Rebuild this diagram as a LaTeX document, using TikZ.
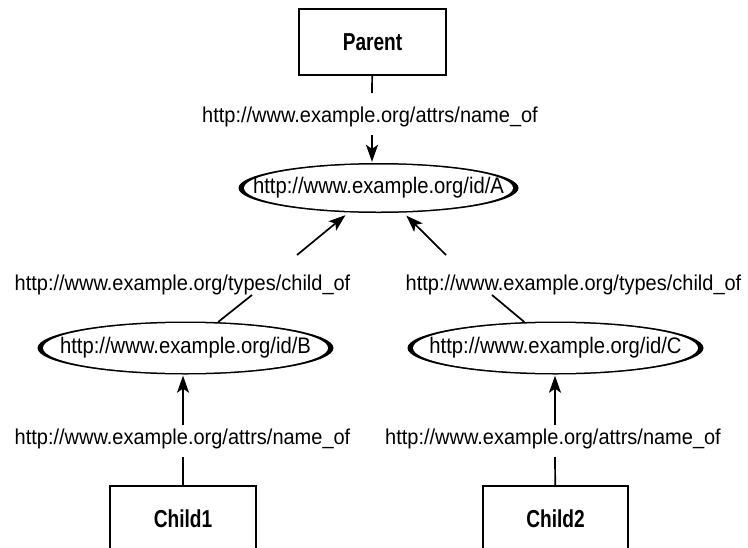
\documentclass[tikz,border=0pt]{standalone}
\usepackage{fontspec}
\usepackage{graphicx}
\setmainfont{Liberation Sans}
\usetikzlibrary{arrows.meta,shapes.geometric}

\tikzset{
  box/.style={draw=black, line width=1.6pt, rectangle, inner sep=0pt,
    minimum width=#1, minimum height=66pt,
    font=\bfseries\fontsize{24.5}{28}\selectfont},
  % ellipse with heavy left/right ends and thin top/bottom rim
  oval/.style 2 args={ellipse, fill=black, inner sep=0pt,
    minimum width=#1, minimum height=#2,
    font=\fontsize{22.5}{26}\selectfont,
    path picture={\fill[white] (path picture bounding box.center)
      ellipse [x radius={#1/2-5.5pt}, y radius={#2/2-1.5pt}];}},
  lbl/.style={inner sep=0pt, anchor=base, font=\fontsize{21.5}{25}\selectfont},
  edge/.style={draw=black, line width=1.7pt},
  arrow/.style={edge, -{Stealth[length=17pt, width=12pt, inset=4pt]}, shorten >=1pt}
}
\newcommand{\ovaltext}[1]{\makebox[0pt]{\scalebox{0.9}[1]{#1}}}
\newcommand{\boxtext}[1]{\scalebox{0.78}[1]{#1}}
\newcommand{\lbltext}[1]{\scalebox{0.93}[1]{#1}}

\begin{document}
\begin{tikzpicture}[x=1pt, y=-1pt]
  \useasboundingbox (0,0) rectangle (748,547);
  \clip (0,0) rectangle (748,547);

  % resource nodes
  \node[box=147pt] (Parent) at (372.5,42) {\boxtext{Parent}};
  \node[oval={280pt}{50pt}] (A) at (378.5,188) {\ovaltext{http://www.example.org/id/A}};
  \node[oval={296pt}{53pt}] (B) at (185.5,348) {\ovaltext{http://www.example.org/id/B}};
  \node[oval={296pt}{53pt}] (C) at (555.5,348) {\ovaltext{http://www.example.org/id/C}};
  \node[box=146pt] (Child1) at (183,519) {\boxtext{Child1}};
  \node[box=145pt] (Child2) at (555.5,519) {\boxtext{Child2}};

  % predicate labels
  \node[lbl] (lp) at (370,122) {\lbltext{http://www.example.org/attrs/name\_of}};
  \node[lbl] (lb) at (182.5,290.5) {\lbltext{http://www.example.org/types/child\_of}};
  \node[lbl] (lc) at (573.5,290.5) {\lbltext{http://www.example.org/types/child\_of}};
  \node[lbl] (l1) at (182.5,444) {\lbltext{http://www.example.org/attrs/name\_of}};
  \node[lbl] (l2) at (553,444) {\lbltext{http://www.example.org/attrs/name\_of}};

  % break points where edges pass their labels
  \coordinate (pa1) at (372,93);
  \coordinate (pa2) at (372,135);
  \coordinate (ba1) at (252,295);
  \coordinate (ba2) at (297,255);
  \coordinate (cr1) at (492,295);
  \coordinate (cr2) at (446,255);
  \coordinate (c1a) at (183,457);
  \coordinate (c1b) at (183,425);
  \coordinate (c2a) at (555,457);
  \coordinate (c2b) at (555,425);

  % Parent -> A
  \draw[edge] (Parent) -- (pa1);
  \draw[arrow] (pa2) -- (pa2 |- A.north);
  % B -> A
  \draw[edge] (B) -- (ba1);
  \draw[arrow, shorten >=4pt] (ba2) -- (A);
  % C -> A
  \draw[edge] (C) -- (cr1);
  \draw[arrow, shorten >=4pt] (cr2) -- (A);
  % Child1 -> B
  \draw[edge] (Child1) -- (c1a);
  \draw[arrow] (c1b) -- (c1b |- B.south);
  % Child2 -> C
  \draw[edge] (Child2) -- (c2a);
  \draw[arrow] (c2b) -- (c2b |- C.south);
\end{tikzpicture}
\end{document}
